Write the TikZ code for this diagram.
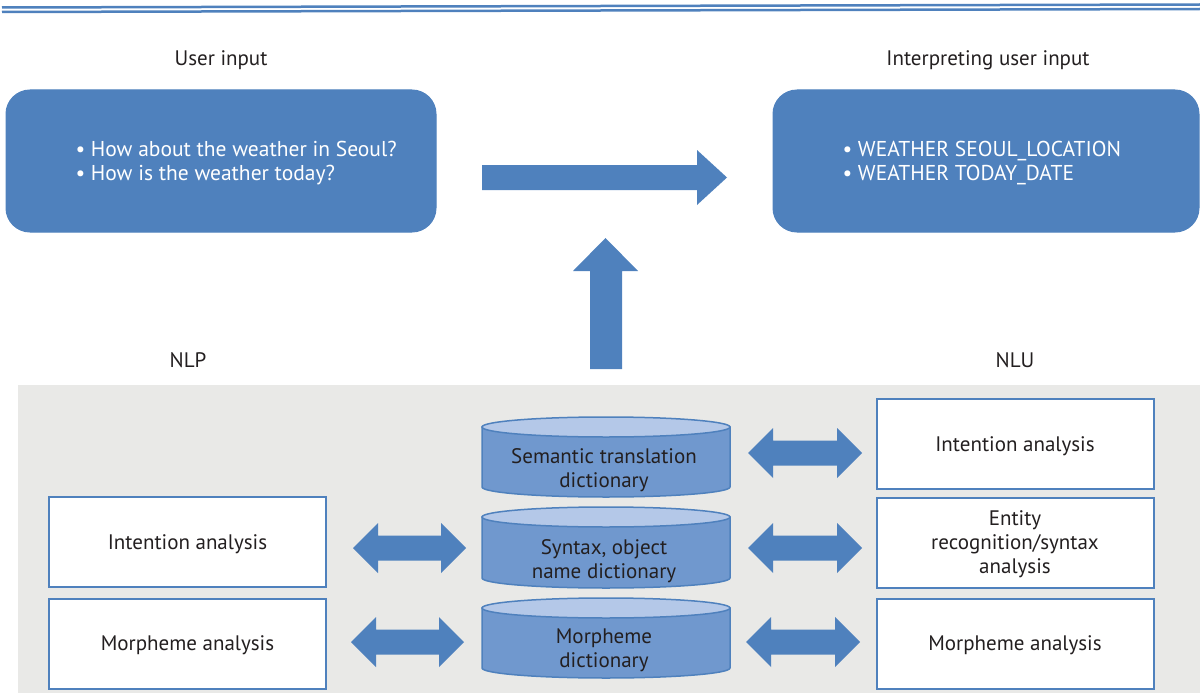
\documentclass[tikz,border=0pt]{standalone}
\usepackage{fontspec}
\setmainfont{PT Sans}
\usetikzlibrary{calc}
\definecolor{mblue}{HTML}{4F81BD}
\definecolor{cylbody}{HTML}{7098CE}
\definecolor{cyltop}{HTML}{B4C8E8}
\definecolor{panel}{HTML}{E9E9E7}
\definecolor{ink}{HTML}{231F20}
\tikzset{
  bluebox/.style={draw=mblue, fill=mblue, rounded corners=24pt, line width=1pt},
  whitebox/.style={draw=mblue, fill=white, line width=2pt, minimum width=277pt, minimum height=90pt, inner sep=0pt, align=center, text=ink, font=\fontsize{21}{24}\selectfont},
  boxlabel/.style={text=ink, align=center, font=\fontsize{21}{24}\selectfont},
  blockarrow/.style={fill=mblue, draw=none},
  lbl/.style={text=ink, font=\fontsize{21}{24}\selectfont},
  cyltxt/.style={text=ink, align=center, font=\fontsize{21}{24}\selectfont},
  bluetxt/.style={text=white, align=left, font=\fontsize{21.5}{24}\selectfont},
}
\newcommand{\cylinder}[4]{% name, cx, ytop(center of top ellipse), ybottom(center of bottom ellipse)
  \fill[cylbody, draw=mblue, line width=1.5pt] (#2-124,#3) -- (#2-124,#4) arc[start angle=180, end angle=360, x radius=124pt, y radius=10pt] -- (#2+124,#3) -- cycle;
  \filldraw[fill=cyltop, draw=mblue, line width=1.5pt] (#2,#3) ellipse[x radius=124pt, y radius=10pt];
  \coordinate (#1) at (#2,{(#3+#4)/2});
}
\newcommand{\wbox}[4]{% name, cx, cy, text
  \node[whitebox] (#1) at (#2,#3) {};
  \node[boxlabel] (#1t) at (#2,#3+2) {#4};
}
\begin{document}
\begin{tikzpicture}[x=1pt,y=-1pt]
\useasboundingbox (0,0) rectangle (1200,693);
% top rules
\draw[mblue, line width=2.5pt] (2,7.5) -- (1200,4.5);
\draw[mblue, line width=2.5pt] (2,12) -- (1200,9);
% top labels
\node[lbl] (ulab) at (221,60) {User input};
\node[lbl] (ilab) at (988,60) {Interpreting user input};
% top boxes
\draw[bluebox] (6,90) rectangle (436,232);
\node[bluetxt, anchor=west] (uin) at (72,163) {\textbullet\ How about the weather in Seoul?\\ \textbullet\ How is the weather today?};
\draw[bluebox] (773,90) rectangle (1199,232);
\node[bluetxt, anchor=west] (iin) at (839,163) {\textbullet\ WEATHER SEOUL\_LOCATION\\ \textbullet\ WEATHER TODAY\_DATE};
% right arrow
\fill[blockarrow] (482,165) -- (697,165) -- (697,150) -- (727,177.5) -- (697,205) -- (697,190) -- (482,190) -- cycle;
% NLP / NLU labels
\node[lbl] (nlp) at (188,360) {NLP};
\node[lbl] (nlu) at (1015,360) {NLU};
% panel
\fill[panel] (18,385) rectangle (1200,693);
% up arrow
\fill[blockarrow] (590,369) -- (590,271) -- (573,271) -- (605.5,238) -- (638,271) -- (622,271) -- (622,369) -- cycle;
% cylinders
\cylinder{sem}{606}{427}{487}
\cylinder{syn}{606}{517}{578}
\cylinder{mor}{606}{608}{668}
\node[cyltxt] (semt) at (604,470) {Semantic translation\\dictionary};
\node[cyltxt] (synt) at (604,561) {Syntax, object\\name dictionary};
\node[cyltxt] (mort) at (604,650) {Morpheme\\dictionary};
% white boxes
\wbox{lint}{187.5}{542}{Intention analysis}
\wbox{lmor}{187.5}{643.5}{Morpheme analysis}
\wbox{rint}{1015}{444}{Intention analysis}
\wbox{rent}{1015}{542.5}{Entity\\recognition/syntax\\analysis}
\wbox{rmor}{1015}{643.5}{Morpheme analysis}
% double arrows
\newcommand{\dblarrow}[3]{% x1, x2, yc
  \fill[blockarrow] (#1,#3) -- (#1+25,#3-25) -- (#1+25,#3-12.5) -- (#2-25,#3-12.5) -- (#2-25,#3-25) -- (#2,#3) -- (#2-25,#3+25) -- (#2-25,#3+12.5) -- (#1+25,#3+12.5) -- (#1+25,#3+25) -- cycle;}
\dblarrow{353}{466}{548}
\dblarrow{351}{464}{642}
\dblarrow{748}{862}{453}
\dblarrow{748}{862}{548}
\dblarrow{746}{860}{642}
\end{tikzpicture}
\end{document}
